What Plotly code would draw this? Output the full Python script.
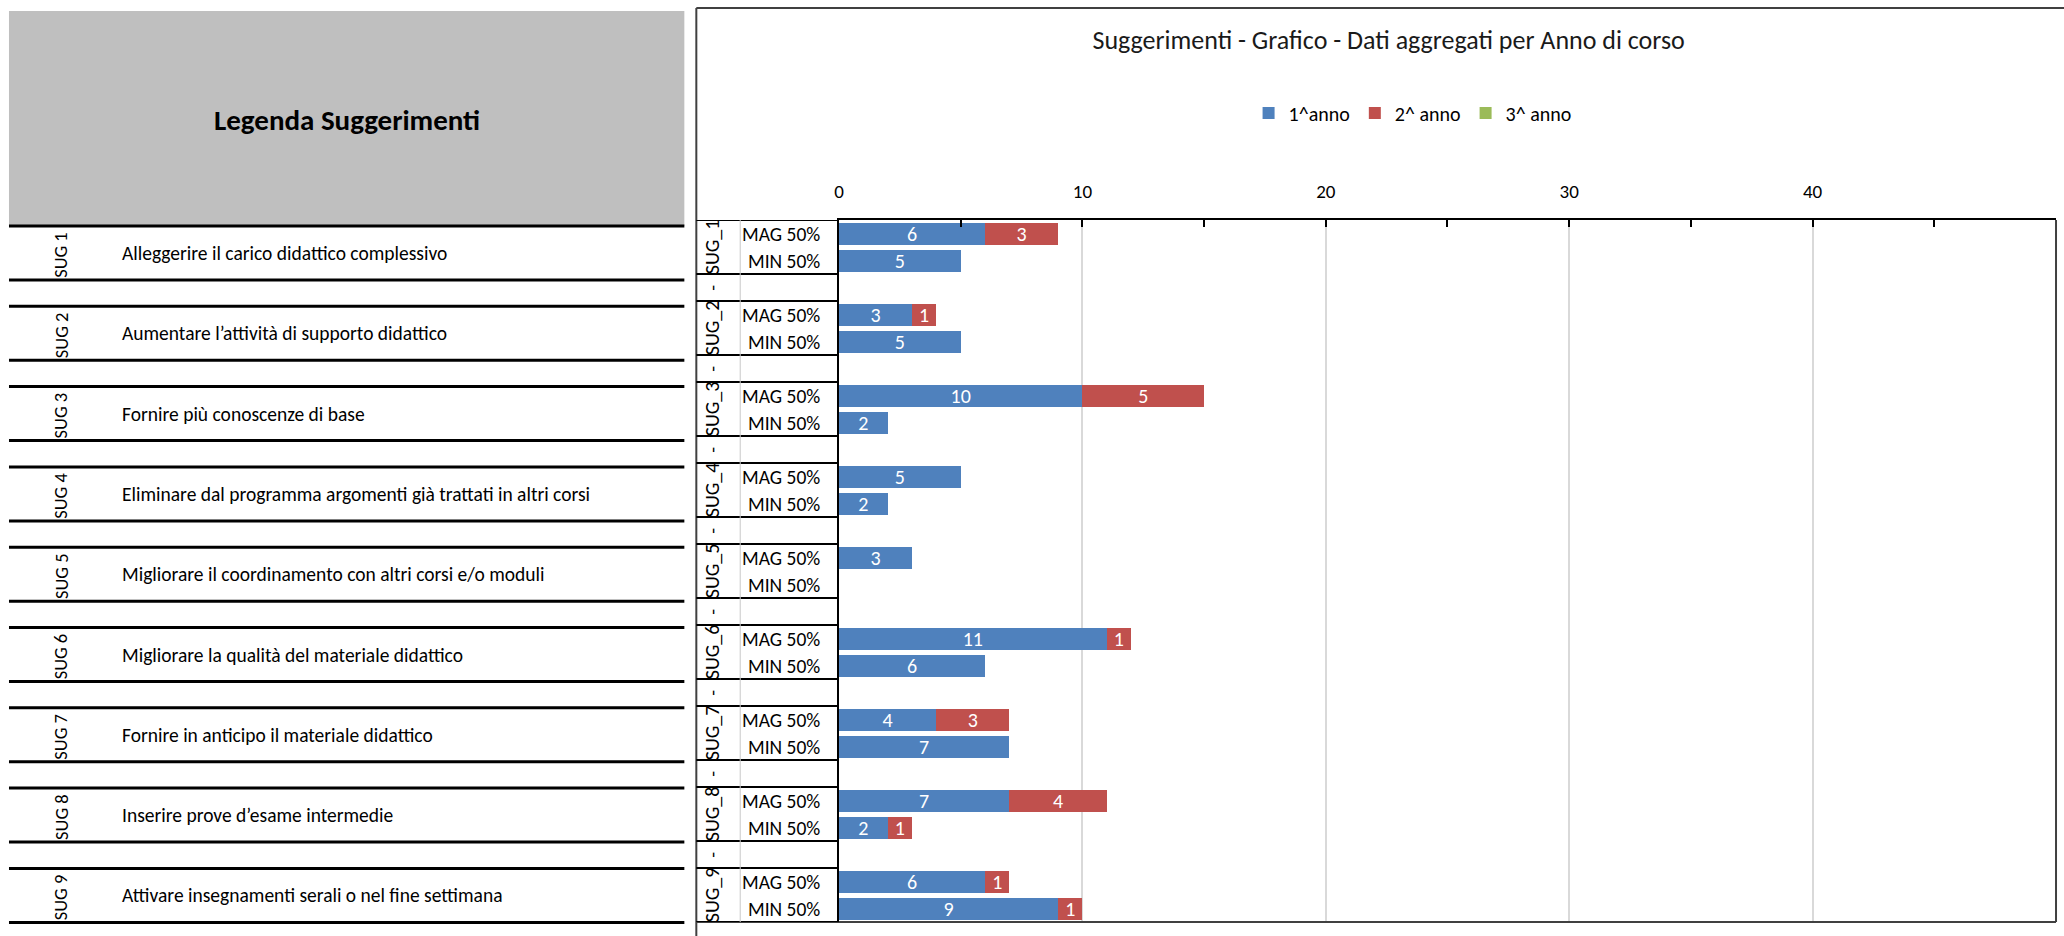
import plotly.graph_objects as go

W, H = 2064, 936

# ---------------- data ----------------
groups = ["SUG_1", "SUG_2", "SUG_3", "SUG_4", "SUG_5", "SUG_6", "SUG_7", "SUG_8", "SUG_9"]
rows = ["MAG 50%", "MIN 50%"]
series_names = ["1^anno", "2^ anno", "3^ anno"]

anno1_mag = [6, 3, 10, 5, 3, 11, 4, 7, 6]
anno1_min = [5, 5, 2, 2, 0, 6, 7, 2, 9]
anno2_mag = [3, 1, 5, 0, 0, 1, 3, 4, 1]
anno2_min = [0, 0, 0, 0, 0, 0, 0, 1, 1]
anno3_mag = [0, 0, 0, 0, 0, 0, 0, 0, 0]
anno3_min = [0, 0, 0, 0, 0, 0, 0, 0, 0]

legend_codes = ["SUG 1", "SUG 2", "SUG 3", "SUG 4", "SUG 5", "SUG 6", "SUG 7", "SUG 8", "SUG 9"]
legend_texts = [
    "Alleggerire il carico didattico complessivo",
    "Aumentare l\u2019attivit\u00e0 di supporto didattico",
    "Fornire pi\u00f9 conoscenze di base",
    "Eliminare dal programma argomenti gi\u00e0 trattati in altri corsi",
    "Migliorare il coordinamento con altri corsi e/o moduli",
    "Migliorare la qualit\u00e0 del materiale didattico",
    "Fornire in anticipo il materiale didattico",
    "Inserire prove d\u2019esame intermedie",
    "Attivare insegnamenti serali o nel fine settimana",
]

x_ticks = [0, 10, 20, 30, 40, 50]

title_text = "Suggerimenti - Grafico - Dati aggregati per Anno di corso"
table_title = "Legenda Suggerimenti"

colors = ["#4F81BD", "#C0504D", "#9BBB59"]
FONT = "Calibri, Carlito, Lato, sans-serif"

# ---------------- helpers ----------------
def px(x):
    return x / W


def py(y):
    return 1 - y / H


# positions on the category axis: group g -> MAG at 3g, MIN at 3g+1, blank at 3g+2
ypos = []
for g in range(len(groups)):
    ypos += [3 * g, 3 * g + 1]


def interleave(a, b):
    out = []
    for u, v in zip(a, b):
        out += [u, v]
    return out


series_vals = [
    interleave(anno1_mag, anno1_min),
    interleave(anno2_mag, anno2_min),
    interleave(anno3_mag, anno3_min),
]

fig = go.Figure()
for name, vals, col in zip(series_names, series_vals, colors):
    fig.add_trace(go.Bar(
        y=ypos,
        x=[v if v else None for v in vals],
        orientation="h",
        name=name,
        marker=dict(color=col, line=dict(width=0)),
        text=[str(v) if v else "" for v in vals],
        textposition="inside",
        insidetextanchor="middle",
        textangle=0,
        constraintext="none",
        textfont=dict(color="white", size=20, family=FONT),
        hoverinfo="skip",
    ))

# plot area pixel bounds
PL, PR, PT, PB = 836, 2056, 220, 922

fig.update_layout(
    width=W, height=H,
    margin=dict(l=0, r=0, t=0, b=0),
    paper_bgcolor="white", plot_bgcolor="white",
    font=dict(family=FONT, color="black"),
    barmode="stack",
    bargap=0.185,
    showlegend=True,
    legend=dict(
        orientation="h",
        traceorder="normal",
        itemwidth=30,
        x=px(1411), xanchor="center",
        y=py(113), yanchor="middle",
        font=dict(size=20, family=FONT, color="black"),
        bgcolor="rgba(0,0,0,0)",
        itemclick=False, itemdoubleclick=False,
    ),
    title=dict(
        text=title_text,
        x=px(1387), xanchor="center", xref="paper",
        y=py(40), yanchor="middle", yref="paper",
        font=dict(size=26, family=FONT, color="#1a1a1a"),
    ),
    xaxis=dict(
        domain=[px(PL), px(PR)],
        range=[0, 50],
        side="top",
        tickvals=x_ticks,
        ticktext=[str(t) for t in x_ticks],
        ticks="inside", ticklen=7, tickwidth=2, tickcolor="black",
        minor=dict(dtick=5, ticks="inside", ticklen=7, tickwidth=2, tickcolor="black", showgrid=False),
        showgrid=True, gridcolor="#D9D9D9", gridwidth=2,
        showline=True, linecolor="black", linewidth=2,
        zeroline=False,
        tickfont=dict(size=19, family=FONT, color="black"),
        ticklabelstandoff=12,
        fixedrange=True,
    ),
    yaxis=dict(
        domain=[py(PB), py(PT)],
        range=[25.5, -0.5],
        showticklabels=False, ticks="",
        showgrid=False, zeroline=False,
        showline=True, linecolor="black", linewidth=2,
        fixedrange=True,
    ),
)

shapes = []
annotations = []

# ---------- left legend table ----------
shapes.append(dict(type="rect", xref="paper", yref="paper",
                   x0=px(4), x1=px(681), y0=py(226), y1=py(11),
                   fillcolor="#BFBFBF", line=dict(width=0), layer="below"))
annotations.append(dict(text="<b>" + table_title + "</b>", xref="paper", yref="paper",
                        x=px(343), y=py(120), xanchor="center", yanchor="middle", showarrow=False,
                        font=dict(size=29, family=FONT, color="black")))
ROW_PERIOD = 80.3
for k, (code, desc) in enumerate(zip(legend_codes, legend_texts)):
    top = 226 + ROW_PERIOD * k
    bot = top + 54
    for yy in (top, bot):
        shapes.append(dict(type="line", xref="paper", yref="paper",
                           x0=px(4), x1=px(681), y0=py(yy), y1=py(yy),
                           line=dict(color="black", width=3)))
    annotations.append(dict(text=code, xref="paper", yref="paper",
                            x=px(56), y=py(bot - 25), xanchor="center", yanchor="middle",
                            showarrow=False, textangle=-90,
                            font=dict(size=18.5, family=FONT, color="black")))
    annotations.append(dict(text=desc, xref="paper", yref="paper",
                            x=px(115), y=py((top + bot) / 2), xanchor="left", yanchor="middle",
                            showarrow=False,
                            font=dict(size=19.5, family=FONT, color="black")))

# ---------- chart frame ----------
FRAME_L, FRAME_T = 693, 8
shapes.append(dict(type="line", xref="paper", yref="paper",
                   x0=px(FRAME_L), x1=px(FRAME_L), y0=py(FRAME_T), y1=0,
                   line=dict(color="#404040", width=2)))
shapes.append(dict(type="line", xref="paper", yref="paper",
                   x0=px(FRAME_L), x1=1, y0=py(FRAME_T), y1=py(FRAME_T),
                   line=dict(color="#404040", width=2)))
# plot bottom and right borders
shapes.append(dict(type="line", xref="paper", yref="paper",
                   x0=px(FRAME_L), x1=px(PR), y0=py(PB), y1=py(PB),
                   line=dict(color="#404040", width=2)))
shapes.append(dict(type="line", xref="paper", yref="paper",
                   x0=px(PR), x1=px(PR), y0=py(PB), y1=py(PT),
                   line=dict(color="#404040", width=2)))

# ---------- multi-level category axis ----------
CAT_L = FRAME_L
INNER_X = 737
boundaries = [-0.5]
for g in range(len(groups)):
    boundaries += [3 * g + 1.5]
    if g < len(groups) - 1:
        boundaries += [3 * g + 2.5]
for b in boundaries:
    shapes.append(dict(type="line", xref="paper", yref="y",
                       x0=px(CAT_L), x1=px(PL), y0=b, y1=b,
                       line=dict(color="black", width=2)))
shapes.append(dict(type="line", xref="paper", yref="y",
                   x0=px(INNER_X), x1=px(INNER_X), y0=-0.5, y1=25.5,
                   line=dict(color="#C8C8C8", width=1)))

for g, gname in enumerate(groups):
    annotations.append(dict(text=gname, xref="paper", yref="y",
                            x=px(709), y=3 * g + 0.5, xanchor="center", yanchor="middle",
                            showarrow=False, textangle=-90,
                            font=dict(size=20, family=FONT, color="black")))
    for r, rname in enumerate(rows):
        annotations.append(dict(text=rname, xref="paper", yref="y",
                                x=px(819), y=3 * g + r, xanchor="right", yanchor="middle",
                                showarrow=False,
                                font=dict(size=19.5, family=FONT, color="black")))
    if g < len(groups) - 1:
        annotations.append(dict(text="-", xref="paper", yref="y",
                                x=px(709), y=3 * g + 2, xanchor="center", yanchor="middle",
                                showarrow=False, textangle=-90,
                                font=dict(size=19, family=FONT, color="black")))

fig.update_layout(shapes=shapes, annotations=annotations)

fig.write_html(
    "out.html", config={"displayModeBar": False},
    post_script=(
        "document.body.style.margin='0px';"
        "document.body.style.overflow='hidden';"
    ),
)
